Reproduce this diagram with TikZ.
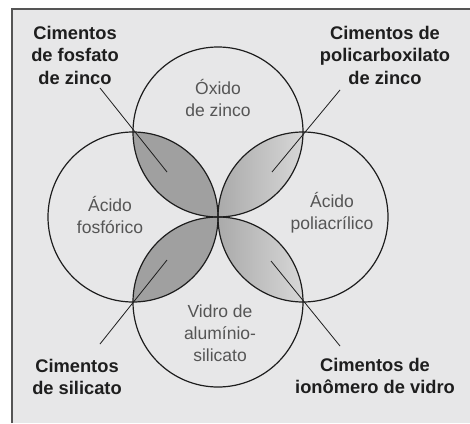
\documentclass[tikz,border=0pt]{standalone}
\usepackage{fontspec}
\setmainfont{Liberation Sans}
\definecolor{bgc}{RGB}{231,231,232}
\definecolor{ink}{RGB}{30,30,30}
\definecolor{soft}{RGB}{85,85,85}
\definecolor{lensdark}{RGB}{160,160,160}
\definecolor{lensmid}{RGB}{170,170,170}
\definecolor{lenslight}{RGB}{215,215,215}
\tikzset{
  circ/.style={draw=ink, line width=1.2pt},
  leader/.style={draw=ink, line width=0.8pt},
  framel/.style={draw=soft, line width=1.6pt},
  cement/.style={font=\fontsize{18.3}{22.5}\selectfont\bfseries, text=ink, align=center, inner sep=0pt},
  compo/.style={font=\fontsize{17.5}{22}\selectfont, text=soft, align=center, inner sep=0pt},
}
\begin{document}
\begin{tikzpicture}[x=1pt,y=-1pt]
\useasboundingbox (0,0) rectangle (470,423);
\fill[white] (0,0) rectangle (470,423);
\fill[bgc] (12,9) rectangle (470,423);
\draw[framel] (12,423) -- (12,9) -- (470,9);

% circle centres
\coordinate (T) at (218,132);
\coordinate (L) at (133,217);
\coordinate (B) at (218,302);
\coordinate (R) at (303,217);

% lenses
\begin{scope}
  \clip (T) circle[radius=85pt];
  \fill[lensdark] (L) circle[radius=85pt];
\end{scope}
\begin{scope}
  \clip (B) circle[radius=85pt];
  \fill[lensdark] (L) circle[radius=85pt];
\end{scope}
\begin{scope}
  \clip (T) circle[radius=85pt];
  \clip (R) circle[radius=85pt];
  \shade[left color=lensmid, right color=lenslight] (218,132) rectangle (303,217);
\end{scope}
\begin{scope}
  \clip (B) circle[radius=85pt];
  \clip (R) circle[radius=85pt];
  \shade[left color=lensmid, right color=lenslight] (218,217) rectangle (303,302);
\end{scope}

% circles
\draw[circ] (T) circle[radius=85pt];
\draw[circ] (L) circle[radius=85pt];
\draw[circ] (B) circle[radius=85pt];
\draw[circ] (R) circle[radius=85pt];

% component labels
\node[compo] (oxido) at (218,98) {Óxido\\de zinco};
\node[compo] (fosf) at (110,215) {Ácido\\fosfórico};
\node[compo] (poli) at (332,213) {Ácido\\poliacrílico};
\node[compo] (vidro) at (220,333) {Vidro de\\alumínio-\\silicato};

% cement labels
\node[cement] (c1) at (75,55) {Cimentos\\de fosfato\\de zinco};
\node[cement] (c2) at (385,55) {Cimentos de\\policarboxilato\\de zinco};
\node[cement] (c3) at (77,377) {Cimentos\\de silicato};
\node[cement] (c4) at (375,376) {Cimentos de\\ionômero de vidro};

% leader ends
\coordinate (a1) at (100,88);
\coordinate (b1) at (167,172);
\coordinate (a2) at (340,90);
\coordinate (b2) at (272,172);
\coordinate (a3) at (100,344);
\coordinate (b3) at (167,260);
\coordinate (a4) at (340,346);
\coordinate (b4) at (271,261);
\draw[leader] (a1) -- (b1);
\draw[leader] (a2) -- (b2);
\draw[leader] (a3) -- (b3);
\draw[leader] (a4) -- (b4);
\end{tikzpicture}
\end{document}
